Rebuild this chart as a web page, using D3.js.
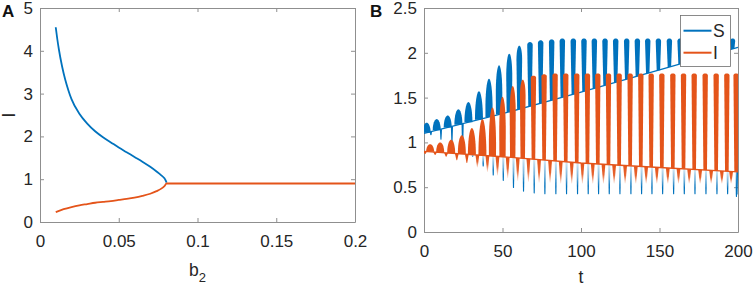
<!DOCTYPE html>
<html>
<head>
<meta charset="utf-8">
<script src="https://cdn.jsdelivr.net/npm/d3@7"></script>
<style>
body { margin: 0; background: #fff; }
svg { display: block; font-family: "Liberation Sans", Arial, Helvetica, sans-serif; }
.axis path, .axis line { stroke: #8f8f8f; stroke-width: 1; }
.axis text { fill: #262626; font-size: 17px; font-family: "Liberation Sans", Arial, sans-serif; }
</style>
</head>
<body>
<svg id="chart" width="754" height="286"></svg>
<script>
// ---- panel A: equilibrium I against b2
var b2Upper = [0.010, 0.011, 0.012, 0.014, 0.016, 0.018, 0.020, 0.025, 0.030, 0.035, 0.040, 0.045, 0.050, 0.055, 0.060, 0.065, 0.070, 0.074, 0.077, 0.079, 0.0798, 0.0804];
var iUpper = [4.55, 4.27, 4.03, 3.64, 3.33, 3.08, 2.87, 2.53, 2.30, 2.12, 1.98, 1.86, 1.74, 1.63, 1.52, 1.41, 1.29, 1.18, 1.09, 1.02, 0.97, 0.92];
var b2Lower = [0.010, 0.015, 0.020, 0.025, 0.030, 0.035, 0.040, 0.045, 0.050, 0.055, 0.060, 0.065, 0.070, 0.074, 0.077, 0.079, 0.0804, 0.2];
var iLower = [0.23, 0.30, 0.35, 0.39, 0.42, 0.45, 0.47, 0.49, 0.515, 0.54, 0.57, 0.61, 0.66, 0.72, 0.78, 0.84, 0.90, 0.90];
var aTicksX = [0, 0.05, 0.1, 0.15, 0.2];
var aTicksY = [0, 1, 2, 3, 4, 5];

// ---- panel B: S and I over time (one entry per oscillation)
var sPeakT = [1.7, 8.1, 15.1, 21.9, 28.3, 35.0, 41.4, 47.8, 54.3, 60.7, 67.5, 74.3, 81.3, 88.1, 95.1, 101.9, 108.5, 115.3, 122.1, 129.1, 135.9, 142.5, 149.3, 156.3, 163.1, 169.9, 176.9, 183.9, 190.7, 196.6];
var sPeak = [1.22, 1.26, 1.30, 1.37, 1.45, 1.57, 1.71, 1.86, 1.99, 2.08, 2.12, 2.14, 2.15, 2.16, 2.16, 2.16, 2.16, 2.16, 2.16, 2.16, 2.16, 2.16, 2.16, 2.16, 2.16, 2.16, 2.16, 2.16, 2.16, 2.16];
var sTroughT = [4.4, 10.8, 17.8, 24.6, 31.0, 37.7, 44.1, 50.5, 57.0, 63.4, 70.2, 77.0, 84.0, 90.8, 97.8, 104.6, 111.2, 118.0, 124.8, 131.8, 138.6, 145.2, 152.0, 159.0, 165.8, 172.6, 179.6, 186.6, 193.4, 199.0];
var sTrough = [1.08, 1.03, 0.98, 0.92, 0.84, 0.73, 0.63, 0.57, 0.49, 0.45, 0.43, 0.42, 0.42, 0.42, 0.42, 0.42, 0.42, 0.42, 0.42, 0.42, 0.42, 0.42, 0.42, 0.42, 0.42, 0.42, 0.42, 0.42, 0.42, 0.39];
var iPeakT = [3.9, 10.3, 17.3, 24.1, 30.5, 37.2, 43.6, 50.0, 56.5, 62.9, 69.7, 76.5, 83.5, 90.3, 97.3, 104.1, 110.7, 117.5, 124.3, 131.3, 138.1, 144.7, 151.5, 158.5, 165.3, 172.1, 179.1, 186.1, 192.9, 198.8];
var iPeak = [0.98, 1.00, 1.03, 1.08, 1.16, 1.26, 1.39, 1.51, 1.63, 1.70, 1.745, 1.76, 1.77, 1.77, 1.77, 1.77, 1.77, 1.77, 1.77, 1.77, 1.77, 1.77, 1.77, 1.77, 1.77, 1.77, 1.77, 1.77, 1.77, 1.77];
var iTroughT = [0.7, 7.1, 14.1, 20.9, 27.3, 34.0, 40.4, 46.8, 53.3, 59.7, 66.5, 73.3, 80.3, 87.1, 94.1, 100.9, 107.5, 114.3, 121.1, 128.1, 134.9, 141.5, 148.3, 155.3, 162.1, 168.9, 175.9, 182.9, 189.7, 195.6];
var iTrough = [0.87, 0.86, 0.84, 0.80, 0.77, 0.72, 0.67, 0.63, 0.60, 0.57, 0.56, 0.55, 0.55, 0.54, 0.54, 0.54, 0.54, 0.54, 0.54, 0.54, 0.54, 0.54, 0.54, 0.54, 0.54, 0.54, 0.54, 0.54, 0.54, 0.54];
// slow lines the oscillations sit on
var sBaseT = [0, 50, 100, 150, 200];
var sBase = [1.10, 1.32, 1.56, 1.81, 2.06];
var iBaseT = [0, 50, 100, 150, 200];
var iBase = [0.90, 0.84, 0.77, 0.72, 0.67];
// last bit of S after the final trough
var sEndT = [199.2, 200];
var sEnd = [0.42, 1.07];
var bTicksX = [0, 50, 100, 150, 200];
var bTicksY = [0, 0.5, 1, 1.5, 2, 2.5];
var legendNames = ["S", "I"];

var blue = "#0072BD";
var orange = "#E4541A";

var svg = d3.select("#chart");

var xA = d3.scaleLinear().domain([0, 0.2]).range([40, 355]);
var yA = d3.scaleLinear().domain([0, 5]).range([222, 8]);
var xB = d3.scaleLinear().domain([0, 200]).range([424, 738]);
var yB = d3.scaleLinear().domain([0, 2.5]).range([232, 8]);

// box with inward ticks on all four sides
function frame(x, y, xTicks, yTicks) {
    var x0 = x.range()[0], x1 = x.range()[1], y0 = y.range()[0], y1 = y.range()[1];
    var fmt = function (d) { return String(d); };
    svg.append("g").attr("class", "axis").attr("transform", "translate(0," + y0 + ")")
        .call(d3.axisBottom(x).tickValues(xTicks).tickFormat(fmt).tickSizeInner(-4).tickSizeOuter(0).tickPadding(13));
    svg.append("g").attr("class", "axis").attr("transform", "translate(0," + y1 + ")")
        .call(d3.axisTop(x).tickValues(xTicks).tickFormat("").tickSizeInner(-4).tickSizeOuter(0));
    svg.append("g").attr("class", "axis").attr("transform", "translate(" + x0 + ",0)")
        .call(d3.axisLeft(y).tickValues(yTicks).tickFormat(fmt).tickSizeInner(-4).tickSizeOuter(0).tickPadding(7));
    svg.append("g").attr("class", "axis").attr("transform", "translate(" + x1 + ",0)")
        .call(d3.axisRight(y).tickValues(yTicks).tickFormat("").tickSizeInner(-4).tickSizeOuter(0));
}

frame(xA, yA, aTicksX, aTicksY);
frame(xB, yB, bTicksX, bTicksY);

// ---- panel A curves
var lineA = d3.line().x(function (d) { return xA(d[0]); }).y(function (d) { return yA(d[1]); })
    .curve(d3.curveMonotoneX);

svg.append("path")
    .attr("d", lineA(d3.zip(b2Upper, iUpper)))
    .attr("fill", "none").attr("stroke", blue).attr("stroke-width", 1.8);
svg.append("path")
    .attr("d", lineA(d3.zip(b2Lower, iLower)))
    .attr("fill", "none").attr("stroke", orange).attr("stroke-width", 1.8);

// ---- panel B
var defs = svg.append("defs");
defs.append("clipPath").attr("id", "clipB").append("rect")
    .attr("x", xB.range()[0]).attr("y", yB.range()[1])
    .attr("width", xB.range()[1] - xB.range()[0]).attr("height", yB.range()[0] - yB.range()[1]);

function fade(id, color, stops) {
    var g = defs.append("linearGradient").attr("id", id)
        .attr("x1", 0).attr("y1", 0).attr("x2", 0).attr("y2", 1);
    stops.forEach(function (s) {
        g.append("stop").attr("offset", s[0]).attr("stop-color", color).attr("stop-opacity", s[1]);
    });
}
fade("blueFade", blue, [[0, 0.15], [0.45, 0.55], [0.75, 1], [1, 1]]);
fade("orangeFade", orange, [[0, 1], [0.55, 0.9], [1, 0.15]]);

var sBaseAt = d3.scaleLinear().domain(sBaseT).range(sBase);
var iBaseAt = d3.scaleLinear().domain(iBaseT).range(iBase);

function lerp(a, b, s) { return a + (b - a) * s; }

// one tapered spike, base width wb, tip width wt, rounded tip of height capH (px)
function spike(cx, yb, yt, wb, wt, capH) {
    var hgt = Math.abs(yt - yb);
    var fc = hgt > 0 ? Math.max(0, 1 - Math.min(capH, hgt) / hgt) : 0;
    var left = [], right = [];
    var pts = [[0, 1]];
    for (var j = 0; j <= 12; j++) {
        var th = j / 12 * Math.PI / 2;
        pts.push([fc + (1 - fc) * Math.sin(th), Math.cos(th)]);
    }
    pts.forEach(function (p) {
        var f = p[0];
        var hw = (wb + (wt - wb) * f) / 2 * p[1];
        var yy = yb + (yt - yb) * f;
        left.push([cx - hw, yy]);
        right.unshift([cx + hw, yy]);
    });
    return d3.line()(left.concat(right)) + "Z";
}

var gB = svg.append("g").attr("clip-path", "url(#clipB)");
var lineB = d3.line().x(function (d) { return xB(d[0]); }).y(function (d) { return yB(d[1]); });

function sharp(k) { return Math.max(0, Math.min(1, (k - 5) / 5)); }

// S
gB.append("path").attr("d", lineB(d3.zip(sBaseT, sBase)))
    .attr("fill", "none").attr("stroke", blue).attr("stroke-width", 1.3);

sPeakT.forEach(function (t, k) {
    var s = sharp(k);
    var yb = yB(sBaseAt(t)), yt = yB(sPeak[k]);
    gB.append("path")
        .attr("d", spike(xB(t), yb, yt, lerp(8, 3.4, s), lerp(8, 5.6, s), lerp(Math.abs(yt - yb), 3, s)))
        .attr("fill", blue);
});

sTroughT.forEach(function (t, k) {
    var deep = sTrough[k] < iBaseAt(t);
    var start = deep ? iBaseAt(t) : sBaseAt(t);
    gB.append("path")
        .attr("d", spike(xB(t), yB(start), yB(sTrough[k]), 2.2, 1.1, 0.6))
        .attr("fill", deep ? "url(#blueFade)" : blue);
});

gB.append("path").attr("d", lineB(d3.zip(sEndT, sEnd)))
    .attr("fill", "none").attr("stroke", blue).attr("stroke-width", 1.6);

// I
gB.append("path").attr("d", lineB(d3.zip(iBaseT, iBase)))
    .attr("fill", "none").attr("stroke", orange).attr("stroke-width", 1.3);

iPeakT.forEach(function (t, k) {
    var s = sharp(k);
    var yb = yB(iBaseAt(t)), yt = yB(iPeak[k]);
    gB.append("path")
        .attr("d", spike(xB(t), yb, yt, lerp(8, 3.6, s), lerp(8, 5.4, s), lerp(Math.abs(yt - yb), 2, s)))
        .attr("fill", orange);
});

iTroughT.forEach(function (t, k) {
    var deep = iBaseAt(t) - iTrough[k] > 0.1;
    gB.append("path")
        .attr("d", spike(xB(t), yB(iBaseAt(t)), yB(iTrough[k]), 3.8, 0.7, 0.5))
        .attr("fill", deep ? "url(#orangeFade)" : orange);
});

// ---- legend
var leg = svg.append("g");
leg.append("rect").attr("x", 680.5).attr("y", 15.5).attr("width", 50).attr("height", 51)
    .attr("fill", "#fff").attr("stroke", "#6e6e6e").attr("stroke-width", 0.8);
legendNames.forEach(function (name, i) {
    var yy = 30.7 + i * 22;
    leg.append("line").attr("x1", 683.5).attr("x2", 711.5).attr("y1", yy).attr("y2", yy)
        .attr("stroke", i === 0 ? blue : orange).attr("stroke-width", 2);
    leg.append("text").attr("x", 713).attr("y", yy + 6.3).attr("font-size", 17.5)
        .attr("fill", "#262626").text(name);
});

// ---- titles and panel letters
svg.append("text").attr("x", 197.5).attr("y", 276).attr("text-anchor", "middle")
    .attr("font-size", 17.5).attr("fill", "#262626")
    .call(function (t) {
        t.append("tspan").text("b");
        t.append("tspan").attr("font-size", 13).attr("dy", 6).text("2");
    });
svg.append("text").attr("transform", "translate(15,115) rotate(-90)").attr("text-anchor", "middle")
    .attr("font-size", 17.5).attr("fill", "#262626").text("I");
svg.append("text").attr("x", 581).attr("y", 283).attr("text-anchor", "middle")
    .attr("font-size", 17.5).attr("fill", "#262626").text("t");
svg.append("text").attr("x", 2).attr("y", 17).attr("font-size", 17).attr("font-weight", "bold")
    .attr("fill", "#111").text("A");
svg.append("text").attr("x", 370).attr("y", 17).attr("font-size", 17).attr("font-weight", "bold")
    .attr("fill", "#111").text("B");
</script>
</body>
</html>
